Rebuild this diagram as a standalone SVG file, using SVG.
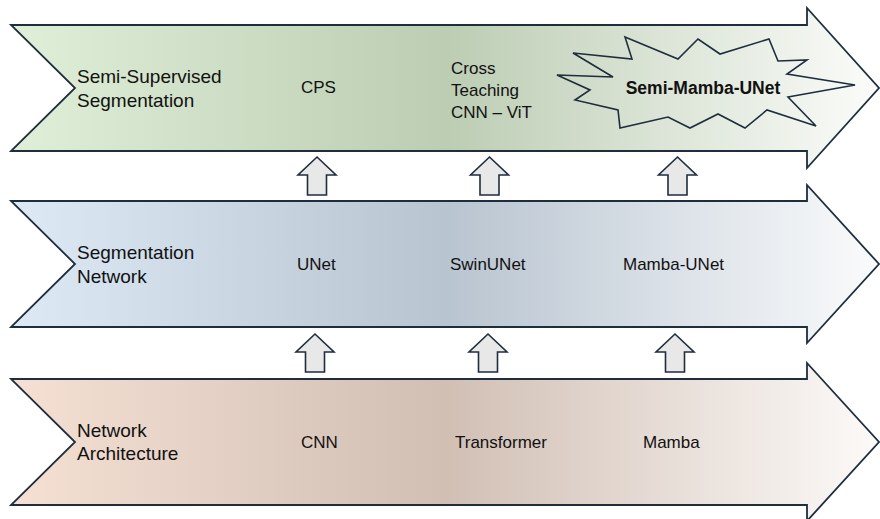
<svg xmlns="http://www.w3.org/2000/svg" width="880" height="519" viewBox="0 0 880 519">
<defs>
<linearGradient id="gGreen" x1="0" y1="0" x2="1" y2="0">
<stop offset="0" stop-color="#e0efd8"/>
<stop offset="0.5" stop-color="#bccdb3"/>
<stop offset="1" stop-color="#fbfcfa"/>
</linearGradient>
<linearGradient id="gBlue" x1="0" y1="0" x2="1" y2="0">
<stop offset="0" stop-color="#dde9f5"/>
<stop offset="0.5" stop-color="#b8c4d0"/>
<stop offset="1" stop-color="#fafbfc"/>
</linearGradient>
<linearGradient id="gTan" x1="0" y1="0" x2="1" y2="0">
<stop offset="0" stop-color="#f5e0d3"/>
<stop offset="0.5" stop-color="#d1bfb4"/>
<stop offset="1" stop-color="#fcfaf8"/>
</linearGradient>
</defs>
<style>
.band{stroke:#1f2d3d;stroke-width:1.8;stroke-linejoin:miter}
.up{fill:#e8e8e8;stroke:#1f2d3d;stroke-width:1.6;stroke-linejoin:miter}
.lbl{font-family:"Liberation Sans",Arial,sans-serif;font-size:19px;fill:#111}
.item{font-family:"Liberation Sans",Arial,sans-serif;font-size:17px;fill:#111}
.bold{font-family:"Liberation Sans",Arial,sans-serif;font-size:17.5px;font-weight:bold;fill:#111}
.burst{fill:none;stroke:#1f2d3d;stroke-width:1.6;stroke-linejoin:miter}
</style>

<g id="band-semi">
<path class="band" fill="url(#gGreen)" d="M11,25 L807,25 L807,8 L879,88 L807,168 L807,151 L11,151 L75,88 Z"/>
<text class="lbl" x="77" y="83">Semi-Supervised</text>
<text class="lbl" x="77" y="107">Segmentation</text>
<text class="item" x="301" y="93">CPS</text>
<text class="item" x="451" y="73.5">Cross</text>
<text class="item" x="451" y="95.5">Teaching</text>
<text class="item" x="451" y="117.5">CNN – ViT</text>
</g>

<g id="semi-mamba-unet">
<path class="burst" d="M625,37 L678,59 L698,39 L720,54 L769,39 L778,61 L807,60 L787,74 L855,85 L788,97 L816,126 L767,110 L745,128 L718,114 L690,128 L668,117 L620,128 L618,110 L575,100 L590,90 L557,75 L613,77 L573,53 L632,59 Z"/>
<text class="bold" x="703" y="94" text-anchor="middle">Semi-Mamba-UNet</text>
</g>

<g id="band-seg">
<path class="band" fill="url(#gBlue)" d="M11,201 L807,201 L807,185 L879,264 L807,343 L807,327 L11,327 L75,264 Z"/>
<text class="lbl" x="77" y="259">Segmentation</text>
<text class="lbl" x="77" y="283">Network</text>
<text class="item" x="297" y="270">UNet</text>
<text class="item" x="450" y="270">SwinUNet</text>
<text class="item" x="623" y="270">Mamba-UNet</text>
</g>

<g id="band-arch">
<path class="band" fill="url(#gTan)" d="M11,379 L807,379 L807,363 L879,442 L807,521 L807,505 L11,505 L75,442 Z"/>
<text class="lbl" x="77" y="437">Network</text>
<text class="lbl" x="77" y="460">Architecture</text>
<text class="item" x="301" y="448">CNN</text>
<text class="item" x="455" y="448">Transformer</text>
<text class="item" x="643" y="448">Mamba</text>
</g>

<g id="connectors">
<path class="up" d="M317,157 L336,175 L326.5,175 L326.5,195 L307.5,195 L307.5,175 L298,175 Z"/>
<path class="up" d="M489.5,157 L508.5,175 L499,175 L499,195 L480,195 L480,175 L470.5,175 Z"/>
<path class="up" d="M677.5,157 L696.5,175 L687,175 L687,195 L668,195 L668,175 L658.5,175 Z"/>
<path class="up" d="M315,334 L334,352 L324.5,352 L324.5,372 L305.5,372 L305.5,352 L296,352 Z"/>
<path class="up" d="M488,334 L507,352 L497.5,352 L497.5,372 L478.5,372 L478.5,352 L469,352 Z"/>
<path class="up" d="M675,334 L694,352 L684.5,352 L684.5,372 L665.5,372 L665.5,352 L656,352 Z"/>
</g>
</svg>
